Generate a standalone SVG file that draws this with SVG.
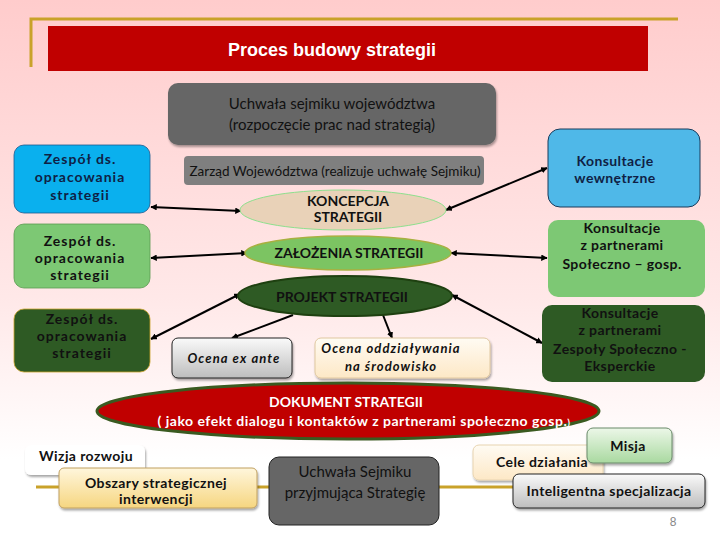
<svg xmlns="http://www.w3.org/2000/svg" width="720" height="540" viewBox="0 0 720 540">
<style>
text{font-family:Lato,"Liberation Sans",sans-serif;text-anchor:middle}
.b{font-weight:bold;font-size:14px;letter-spacing:0.4px}
.e{font-weight:bold;font-size:14px}
.ls{letter-spacing:1px}
.n{font-size:13px;fill:#111}
.navy{fill:#0f1f45}
.dk{fill:#111}
.wh{fill:#fff}
.it{font-style:italic;font-weight:bold;font-size:13px;letter-spacing:1.1px;fill:#111}
.con{stroke:#000;stroke-width:2;fill:none}
.gold{stroke:#c9a22a;stroke-width:3;fill:none}
</style>
<defs>
<linearGradient id="bg" x1="0" y1="0" x2="0" y2="1">
<stop offset="0" stop-color="#ffcccc"/>
<stop offset="0.55" stop-color="#ffe8e8"/>
<stop offset="0.85" stop-color="#ffffff"/>
</linearGradient>
<linearGradient id="gray" x1="0" y1="0" x2="0" y2="1">
<stop offset="0" stop-color="#fafafa"/>
<stop offset="1" stop-color="#bdbdbd"/>
</linearGradient>
<linearGradient id="cream" x1="0" y1="0" x2="0" y2="1">
<stop offset="0" stop-color="#fffbf3"/>
<stop offset="1" stop-color="#fde8c6"/>
</linearGradient>
<linearGradient id="yel" x1="0" y1="0" x2="0" y2="1">
<stop offset="0" stop-color="#fff6dc"/>
<stop offset="1" stop-color="#f6d680"/>
</linearGradient>
<linearGradient id="mis" x1="0" y1="0" x2="0" y2="1">
<stop offset="0" stop-color="#ecf7e8"/>
<stop offset="1" stop-color="#a9d9a0"/>
</linearGradient>
<marker id="ah" viewBox="0 0 10 10" refX="9" refY="5" markerWidth="3.2" markerHeight="3.2" orient="auto-start-reverse">
<path d="M0,0 L10,5 L0,10 z" fill="#000"/>
</marker>
<filter id="sh" x="-10%" y="-10%" width="120%" height="130%">
<feDropShadow dx="1" dy="2" stdDeviation="1" flood-color="#000" flood-opacity="0.35"/>
</filter>
</defs>
<rect width="720" height="540" fill="url(#bg)"/>

<g id="title">
<path class="gold" d="M31,67 V19 H678"/>
<rect x="48" y="26" width="600" height="45" fill="#c00000"/>
<text x="332" y="56" style="font-family:'Liberation Sans',Arial,sans-serif;font-weight:bold;font-size:18px;fill:#fff">Proces budowy strategii</text>
</g>

<g id="bottom-line">
<path class="gold" d="M36,487 H515"/>
</g>

<g id="connectors">
<path class="con" d="M151,207 L241,211" marker-start="url(#ah)" marker-end="url(#ah)"/>
<path class="con" d="M151,258 L247,253" marker-start="url(#ah)" marker-end="url(#ah)"/>
<path class="con" d="M547,168 L446,210" marker-start="url(#ah)" marker-end="url(#ah)"/>
<path class="con" d="M451,253 L547,258" marker-start="url(#ah)" marker-end="url(#ah)"/>
<path class="con" d="M240,294 L151,339" marker-start="url(#ah)" marker-end="url(#ah)"/>
<path class="con" d="M293,315 L232,338" marker-end="url(#ah)"/>
<path class="con" d="M383,315 L392,338" marker-end="url(#ah)"/>
<path class="con" d="M452,295 L542,343" marker-start="url(#ah)" marker-end="url(#ah)"/>
</g>

<g id="uchwala-top">
<rect x="168" y="83" width="328" height="62" rx="10" fill="#666" filter="url(#sh)"/>
<text class="n" x="332" y="109" style="font-size:15px">Uchwała sejmiku województwa</text>
<text class="n" x="332" y="130" style="font-size:15px">(rozpoczęcie prac nad strategią)</text>
</g>

<g id="zarzad">
<rect x="184" y="156" width="300" height="29" rx="4" fill="#7f7f7f"/>
<text class="n" x="335" y="176" style="font-size:13.5px">Zarząd Województwa  (realizuje uchwałę Sejmiku)</text>
</g>

<g id="zespol1">
<rect x="14" y="145" width="136" height="68" rx="10" fill="#0ab0ee" stroke="#1a5a90" stroke-width="0.8"/>
<text class="b ls navy" x="80" y="164">Zespół ds.</text>
<text class="b ls navy" x="80" y="182">opracowania</text>
<text class="b ls navy" x="80" y="200">strategii</text>
</g>

<g id="zespol2">
<rect x="14" y="224" width="136" height="64" rx="10" fill="#7dc874" stroke="#5a9a50" stroke-width="0.8"/>
<text class="b ls dk" x="80" y="246">Zespół ds.</text>
<text class="b ls dk" x="80" y="263">opracowania</text>
<text class="b ls dk" x="80" y="280">strategii</text>
</g>

<g id="zespol3">
<rect x="14" y="309" width="136" height="63" rx="10" fill="#2e5a24" stroke="#c9a22a" stroke-width="0.8"/>
<text class="b ls dk" x="82" y="324">Zespół ds.</text>
<text class="b ls dk" x="82" y="341">opracowania</text>
<text class="b ls dk" x="82" y="358">strategii</text>
</g>

<g id="koncepcja">
<ellipse cx="343" cy="210" rx="103" ry="20" fill="#e9d2b8" stroke="#8ee08e" stroke-width="1"/>
<text class="e dk" x="348" y="206">KONCEPCJA</text>
<text class="e dk" x="348" y="222">STRATEGII</text>
</g>

<g id="zalozenia">
<ellipse cx="348" cy="253" rx="103" ry="17" fill="#7cc462" stroke="#a8b040" stroke-width="1.5"/>
<text class="e dk" x="349" y="258">ZAŁOŻENIA STRATEGII</text>
</g>

<g id="projekt">
<ellipse cx="345" cy="296" rx="107" ry="20" fill="#2e5a24" stroke="#1e4010" stroke-width="2"/>
<text class="e dk" x="342" y="302">PROJEKT STRATEGII</text>
</g>

<g id="ex-ante">
<rect x="172" y="338" width="120" height="40" rx="6" fill="url(#gray)" stroke="#222" stroke-width="1" filter="url(#sh)"/>
<text class="it" x="234" y="363">Ocena ex ante</text>
</g>

<g id="ocena-srod">
<rect x="315" y="338" width="175" height="40" rx="6" fill="url(#cream)" stroke="#e0c8a0" stroke-width="1" filter="url(#sh)"/>
<text class="it" x="391" y="353">Ocena oddziaływania</text>
<text class="it" x="391" y="371">na środowisko</text>
</g>

<g id="kons-wew">
<rect x="548" y="129" width="152" height="78" rx="12" fill="#4fb8e8" stroke="#1a3a5a" stroke-width="1"/>
<text class="b navy" x="615" y="166">Konsultacje</text>
<text class="b navy" x="615" y="183">wewnętrzne</text>
</g>

<g id="kons-spol">
<rect x="548" y="220" width="157" height="77" rx="10" fill="#7dc874"/>
<text class="b dk" x="622" y="233">Konsultacje</text>
<text class="b dk" x="622" y="250">z partnerami</text>
<text class="b dk" x="622" y="269">Społeczno – gosp.</text>
</g>

<g id="kons-eksp">
<rect x="542" y="305" width="163" height="77" rx="10" fill="#2e5a24"/>
<text class="b dk" x="620" y="318">Konsultacje</text>
<text class="b dk" x="620" y="335">z partnerami</text>
<text class="b dk" x="620" y="354">Zespoły  Społeczno -</text>
<text class="b dk" x="620" y="371">Eksperckie</text>
</g>

<g id="dokument">
<ellipse cx="348" cy="411" rx="251" ry="28" fill="#c00000" stroke="#3a5a20" stroke-width="3"/>
<text class="wh" x="346" y="407" style="font-size:14px;font-weight:bold">DOKUMENT STRATEGII</text>
<text class="wh" x="364" y="426" style="font-size:14px;font-weight:bold;letter-spacing:0.5px">( jako efekt dialogu i kontaktów z partnerami społeczno gosp.<tspan style="font-size:10px">)</tspan></text>
</g>

<g id="wizja">
<rect x="25" y="445" width="120" height="30" rx="6" fill="#fff" filter="url(#sh)"/>
<text class="b dk" x="86" y="461">Wizja rozwoju</text>
</g>

<g id="obszary">
<rect x="59" y="468" width="198" height="40" rx="5" fill="url(#yel)" stroke="#c0a060" stroke-width="1" filter="url(#sh)"/>
<text class="b dk" x="156" y="488">Obszary strategicznej</text>
<text class="b dk" x="156" y="504">interwencji</text>
</g>

<g id="uchwala-bottom">
<rect x="269" y="457" width="170" height="68" rx="10" fill="#666" stroke="#222" stroke-width="1"/>
<text class="n" x="355" y="477" style="font-size:15px">Uchwała Sejmiku</text>
<text class="n" x="355" y="498" style="font-size:15px">przyjmująca Strategię</text>
</g>

<g id="cele">
<rect x="473" y="445" width="130" height="35" rx="6" fill="url(#cream)" stroke="#e8d4b0" stroke-width="1" filter="url(#sh)"/>
<text class="b dk" x="542" y="467">Cele działania</text>
</g>

<g id="inteligentna">
<rect x="513" y="474" width="192" height="34" rx="6" fill="url(#gray)" stroke="#222" stroke-width="1" filter="url(#sh)"/>
<text class="b dk" x="609" y="496">Inteligentna specjalizacja</text>
</g>

<g id="misja">
<rect x="587" y="428" width="85" height="35" rx="6" fill="url(#mis)" stroke="#6a8a6a" stroke-width="1" filter="url(#sh)"/>
<text class="b dk" x="628" y="451">Misja</text>
</g>

<text x="673" y="526" style="font-family:'Liberation Sans',sans-serif;font-size:12px;fill:#888">8</text>
</svg>
